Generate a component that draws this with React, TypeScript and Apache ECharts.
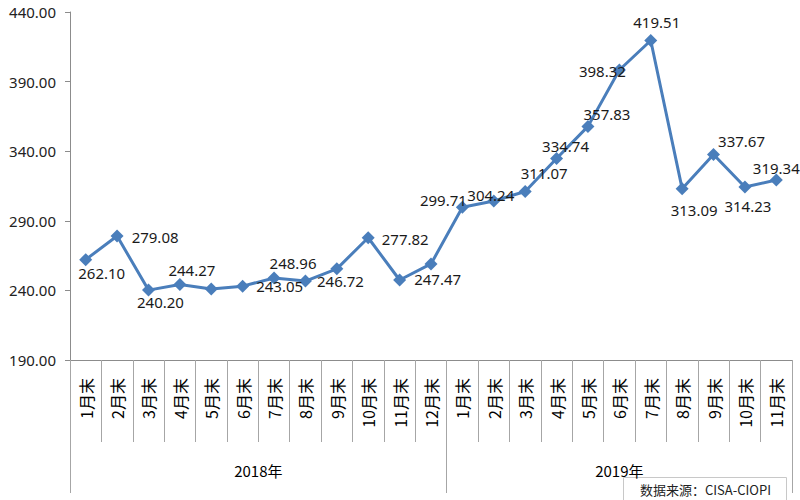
import React, { useEffect, useRef } from "react";
import * as echarts from "echarts";

const years = ["2018年", "2019年"];
const months2018 = ["1月末", "2月末", "3月末", "4月末", "5月末", "6月末", "7月末", "8月末", "9月末", "10月末", "11月末", "12月末"];
const months2019 = ["1月末", "2月末", "3月末", "4月末", "5月末", "6月末", "7月末", "8月末", "9月末", "10月末", "11月末"];
const values2018 = [262.1, 279.08, 240.2, 244.27, 241.0, 243.05, 248.96, 246.72, 255.5, 277.82, 247.47, 259.0];
const values2019 = [299.71, 304.24, 311.07, 334.74, 357.83, 398.32, 419.51, 313.09, 337.67, 314.23, 319.34];
// which points carry a value label in the reference
const labeled2018 = [true, true, true, true, false, true, true, true, false, true, true, false];
const labeled2019 = [true, true, true, true, true, true, true, true, true, true, true];
const yTicks = { min: 190, max: 440, step: 50 };
const sourceText = "数据来源：CISA-CIOPI";

// label placement (style only): offset of each label centre from its point
const labelOffsets: number[][] = [
  [16, 13], [38, 1], [12, 12], [12, -14], [0, 0], [37, 0], [19, -15], [35, 0], [0, 0], [37, 1], [38, -1], [0, 0],
  [-19, -7], [-3, -6], [19, -18], [9, -13], [19, -12], [-17, 1], [6, -19], [12, 21], [28, -13], [3, 19], [0, -12],
];

export default function App() {
  const ref = useRef<HTMLDivElement>(null);
  useEffect(() => {
    if (!ref.current) return;
    const chart = echarts.init(ref.current, null, { renderer: "svg" });
    const categories = [...months2018, ...months2019];
    const values = [...values2018, ...values2019];
    const labeled = [...labeled2018, ...labeled2019];
    const counts = [months2018.length, months2019.length];
    const bounds = [0, counts[0], counts[0] + counts[1]];
    const centers = [counts[0] / 2, counts[0] + counts[1] / 2];
    const total = categories.length;

    const cjk = "'Noto Sans CJK SC', 'Noto Sans', sans-serif";
    const num = "'Noto Sans', 'Liberation Sans', sans-serif";

    const data = values.map((v, i) => ({
      value: v,
      label: { show: labeled[i] },
    }));

    chart.setOption({
      animation: false,
      backgroundColor: "#ffffff",
      grid: { left: 70, right: 8, top: 12, bottom: 140, containLabel: false },
      xAxis: [
        {
          type: "category",
          data: categories,
          boundaryGap: true,
          axisLine: { show: true, lineStyle: { color: "#8c8c8c", width: 1 } },
          axisTick: { show: true, interval: 0, length: 82, lineStyle: { color: "#a6a6a6", width: 1 } },
          axisLabel: {
            interval: 0,
            rotate: 90,
            margin: 18,
            fontSize: 16,
            color: "#000",
            fontFamily: cjk,
          },
        },
        {
          type: "value",
          min: 0,
          max: total,
          position: "bottom",
          axisLine: { show: false },
          splitLine: { show: false },
          axisTick: { show: true, customValues: bounds, length: 133, lineStyle: { color: "#a6a6a6", width: 1 } },
          axisLabel: {
            show: true,
            customValues: centers,
            margin: 103,
            fontSize: 15,
            color: "#000",
            fontFamily: cjk,
            formatter: (v: number) => years[centers.indexOf(v)] ?? "",
          },
        },
      ],
      yAxis: {
        type: "value",
        min: yTicks.min,
        max: yTicks.max,
        interval: yTicks.step,
        axisLine: { show: true, lineStyle: { color: "#8c8c8c", width: 1 } },
        axisTick: { show: true, length: 5, lineStyle: { color: "#8c8c8c" } },
        splitLine: { show: false },
        axisLabel: {
          margin: 14,
          fontSize: 15,
          color: "#222",
          fontFamily: num,
          formatter: (v: number) => v.toFixed(2),
        },
      },
      series: [
        {
          type: "line",
          xAxisIndex: 0,
          data,
          symbol: "diamond",
          symbolSize: 13,
          lineStyle: { color: "#4a7ebb", width: 3 },
          itemStyle: { color: "#4a7ebb" },
          label: {
            position: "inside",
            align: "center",
            verticalAlign: "middle",
            fontSize: 15,
            color: "#1a1a1a",
            fontFamily: num,
            formatter: (p: any) => Number(p.value).toFixed(2),
          },
          labelLayout: (p: any) => {
            const o = labelOffsets[p.dataIndex] || [0, 0];
            return { dx: o[0], dy: o[1], hideOverlap: false };
          },
          z: 3,
        },
      ],
      graphic: [
        {
          type: "rect",
          left: 623,
          top: 477,
          shape: { width: 163, height: 30 },
          style: { fill: "#fff", stroke: "#c8c8c8", lineWidth: 1 },
        },
        {
          type: "text",
          left: 640,
          top: 483,
          style: { text: sourceText, fontSize: 13, fill: "#222", fontFamily: cjk },
        },
      ],
    });
    return () => chart.dispose();
  }, []);
  return <div ref={ref} style={{ width: 800, height: 500, position: "absolute", left: 0, top: 0 }} />;
}
